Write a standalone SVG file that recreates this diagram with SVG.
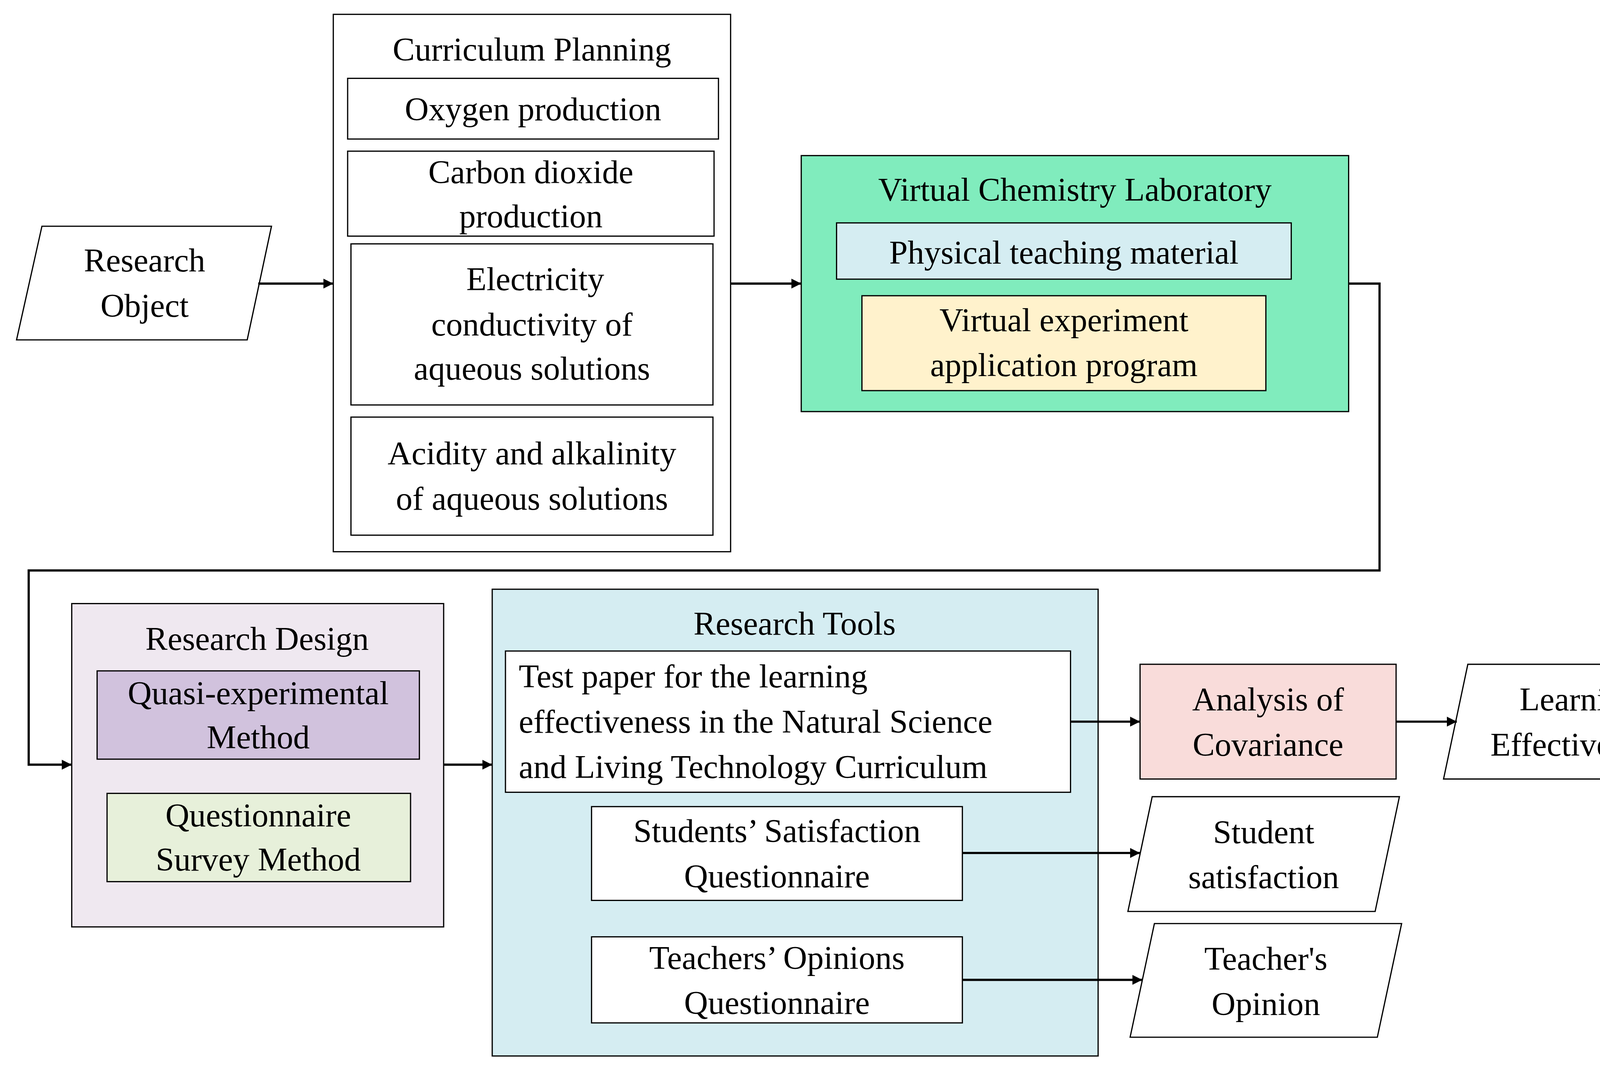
<svg xmlns="http://www.w3.org/2000/svg" width="4416" height="2732" viewBox="0 0 4416 2732">
<defs>
<marker id="ah" viewBox="0 0 10 10" refX="10" refY="5" markerWidth="9" markerHeight="9" markerUnits="userSpaceOnUse" orient="auto"><path d="M0,0 L10,5 L0,10 z" fill="#000"/></marker>
<style>
text{font-family:"Liberation Serif","Times New Roman",serif;font-size:30px;fill:#000;text-anchor:middle}
.b{stroke:#000;stroke-width:1.1;fill:#fff}
.c{stroke:#000;stroke-width:2;fill:none}
</style>
</defs>
<rect width="4416" height="2732" fill="#fff"/>
<g transform="scale(2.8253)">
<g id="research-object"><polygon class="b" points="38,205 246,205 224,308 15,308"/><text x="131" y="246">Research</text><text x="131" y="287">Object</text></g>
<g id="curriculum-planning">
<rect class="b" x="302" y="13" width="360" height="487"/><text x="482" y="55">Curriculum Planning</text>
<rect class="b" x="315" y="71" width="336" height="55"/><text x="483" y="109">Oxygen production</text>
<rect class="b" x="315" y="137" width="332" height="77"/><text x="481" y="166">Carbon dioxide</text><text x="481" y="206">production</text>
<rect class="b" x="318" y="221" width="328" height="146"/><text x="485" y="263">Electricity</text><text x="482" y="304">conductivity of</text><text x="482" y="344">aqueous solutions</text>
<rect class="b" x="318" y="378" width="328" height="107"/><text x="482" y="421">Acidity and alkalinity</text><text x="482" y="462">of aqueous solutions</text>
</g>
<g id="virtual-lab">
<rect class="b" x="726" y="141" width="496" height="232" style="fill:#80ECBD"/><text x="974" y="182">Virtual Chemistry Laboratory</text>
<rect class="b" x="758" y="202" width="412" height="51" style="fill:#D5EDF2"/><text x="964" y="239">Physical teaching material</text>
<rect class="b" x="781" y="268" width="366" height="86" style="fill:#FFF2CC"/><text x="964" y="300">Virtual experiment</text><text x="964" y="341">application program</text>
</g>
<g id="research-design">
<rect class="b" x="65" y="547" width="337" height="293" style="fill:#EFE8F0"/><text x="233" y="589">Research Design</text>
<rect class="b" x="88" y="608" width="292" height="80" style="fill:#D1C2DD"/><text x="234" y="638">Quasi-experimental</text><text x="234" y="678">Method</text>
<rect class="b" x="97" y="719" width="275" height="80" style="fill:#E7F0DA"/><text x="234" y="749">Questionnaire</text><text x="234" y="789">Survey Method</text>
</g>
<g id="research-tools">
<rect class="b" x="446" y="534" width="549" height="423" style="fill:#D5EDF2"/><text x="720" y="575">Research Tools</text>
<rect class="b" x="458" y="590" width="512" height="128"/>
<text x="470" y="623" style="text-anchor:start">Test paper for the learning</text><text x="470" y="664" style="text-anchor:start">effectiveness in the Natural Science</text><text x="470" y="705" style="text-anchor:start">and Living Technology Curriculum</text>
<rect class="b" x="536" y="731" width="336" height="85"/><text x="704" y="763">Students’ Satisfaction</text><text x="704" y="804">Questionnaire</text>
<rect class="b" x="536" y="849" width="336" height="78"/><text x="704" y="878">Teachers’ Opinions</text><text x="704" y="919">Questionnaire</text>
</g>
<g id="ancova"><rect class="b" x="1033" y="602" width="232" height="104" style="fill:#F9DCDA"/><text x="1149" y="644">Analysis of</text><text x="1149" y="685">Covariance</text></g>
<g id="learning-effectiveness"><polygon class="b" points="1330,602 1554,602 1532,706 1308,706"/><text x="1431" y="644">Learning</text><text x="1431" y="685">Effectiveness</text></g>
<g id="student-satisfaction"><polygon class="b" points="1044,722 1268,722 1246,826 1022,826"/><text x="1145" y="764">Student</text><text x="1145" y="805">satisfaction</text></g>
<g id="teacher-opinion"><polygon class="b" points="1046,837 1270,837 1248,940 1024,940"/><text x="1147" y="879">Teacher's</text><text x="1147" y="920">Opinion</text></g>
<g id="connectors">
<line class="c" x1="234" y1="257" x2="302" y2="257" marker-end="url(#ah)"/>
<line class="c" x1="662" y1="257" x2="726" y2="257" marker-end="url(#ah)"/>
<polyline class="c" points="1222,257 1250,257 1250,517 26,517 26,693 65,693" marker-end="url(#ah)"/>
<line class="c" x1="402" y1="693" x2="446" y2="693" marker-end="url(#ah)"/>
<line class="c" x1="970" y1="654" x2="1033" y2="654" marker-end="url(#ah)"/>
<line class="c" x1="1265" y1="654" x2="1320" y2="654" marker-end="url(#ah)"/>
<line class="c" x1="872" y1="773" x2="1033" y2="773" marker-end="url(#ah)"/>
<line class="c" x1="872" y1="888" x2="1035" y2="888" marker-end="url(#ah)"/>
</g>
</g>
</svg>
